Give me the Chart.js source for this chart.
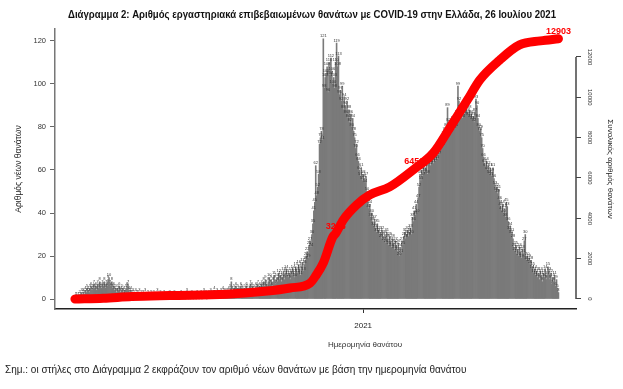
<!DOCTYPE html>
<html>
<head>
<meta charset="utf-8">
<script src="https://cdn.jsdelivr.net/npm/chart.js@4"></script>
<style>
  html, body { margin: 0; padding: 0; background: #fff; }
</style>
</head>
<body>
<canvas id="chart" width="623" height="389"></canvas>
<script>
// daily deaths by date of death, day 0 = 3 March 2020, last = 26 July 2021
const dailyDeaths = [
  0, 1, 1, 0, 1, 2, 1, 3, 2, 3, 2, 4, 3, 5, 4, 3, 5, 6, 4, 5, 7,
  5, 6, 4, 7, 5, 8, 6, 5, 7, 6, 8, 5, 7, 6, 9, 10, 7, 6, 8, 5,
  6, 4, 5, 3, 5, 4, 6, 3, 4, 5, 3, 4, 2, 5, 6, 7, 4, 3, 4, 2,
  3, 2, 1, 3, 2, 2, 1, 3, 1, 2, 0, 2, 1, 3, 1, 0, 2, 1, 1, 2,
  0, 1, 2, 0, 1, 1, 3, 0, 1, 2, 0, 1, 0, 2, 1, 0, 1, 0, 1, 2,
  1, 0, 0, 1, 2, 0, 1, 0, 0, 1, 0, 2, 1, 0, 1, 0, 0, 3, 1, 0,
  1, 0, 2, 1, 0, 1, 1, 0, 2, 1, 0, 1, 2, 0, 1, 3, 1, 2, 0, 1,
  2, 1, 3, 2, 1, 2, 4, 2, 1, 3, 2, 1, 2, 3, 2, 4, 3, 2, 3, 2,
  3, 4, 2, 5, 8, 4, 3, 5, 4, 6, 3, 5, 4, 3, 6, 5, 4, 3, 5, 4,
  6, 5, 3, 4, 7, 5, 6, 4, 5, 3, 6, 5, 7, 4, 6, 5, 7, 6, 8, 6,
  9, 7, 5, 8, 10, 7, 9, 6, 8, 11, 9, 7, 10, 8, 12, 9, 11, 8, 10, 13, 9, 12, 14, 11,
  10, 12, 9, 13, 11, 14, 12, 10, 15, 13, 12, 16, 14, 11, 15, 17, 13, 16, 18,
  20, 22, 19, 25, 27, 24, 30,
  35, 41, 45, 62, 48, 52, 58, 72, 75, 78, 74, 121, 98, 103,
  105, 108, 96, 110, 104, 112, 106, 100, 103, 98, 110, 119, 108, 113, 95,
  97, 92, 99, 88, 94, 90, 86, 92, 84, 88, 82, 86, 80, 84, 78,
  75, 70, 72, 66, 64, 60, 57, 61, 55, 58,
  56, 54, 57, 50, 45, 42, 44, 38, 40, 36, 34, 37, 33, 31, 35, 32, 30, 31, 28, 32,
  29, 27, 30, 26, 31, 28, 25, 29, 27, 24, 28, 26, 23, 27, 25, 22, 26, 20, 24, 21,
  27, 25, 29, 31, 28, 30, 32, 29, 31, 33, 30, 38, 36, 41, 39,
  44, 40, 47, 52, 58, 55, 60, 57, 62, 59, 61, 64, 58, 63, 66, 62, 65, 67, 63, 66,
  64, 68, 65, 70, 67, 72, 70, 74, 71, 76, 78, 75, 80, 89, 82, 79, 81, 78, 80, 83,
  79, 82, 80, 86, 99, 92, 88, 85, 87, 84, 88, 86, 90, 92, 87, 85, 88, 84, 86, 83,
  85, 82, 87, 93, 90, 84, 80, 78, 79, 75, 70, 66, 63, 61, 64, 60, 62, 58, 61, 57,
  59, 61, 56, 53, 50, 52, 49, 51, 46, 43, 41, 44, 40, 42, 38, 45, 43, 36, 32, 34,
  30, 31, 28, 24, 22, 25, 21, 23, 20, 24, 22, 19, 23, 21, 27, 30, 18, 20, 17, 19,
  16, 18, 14, 15, 12, 14, 11, 13, 10, 12, 9, 13, 11, 8, 12, 10, 14, 9, 11, 15,
  13, 9, 12, 7, 10, 8, 11, 6, 9, 5, 3,
]

// cumulative total (day index -> total)
const cumDays = [0, 30, 60, 100, 160, 200, 227, 248, 254, 262, 272, 275, 283, 297, 311, 332, 358, 378, 396, 414, 427, 448, 469, 491, 510]
const cumValues = [0, 40, 120, 170, 230, 380, 545, 790, 1150, 1790, 3080, 3246, 3920, 4660, 5160, 5560, 6450, 7240, 8530, 9870, 10860, 11850, 12600, 12800, 12903]
const labelledTotals = [3246, 6450, 12903]

const leftTicks = [0, 20, 40, 60, 80, 100, 120]
const rightTicks = [0, 2000, 4000, 6000, 8000, 10000, 12000]
const xTickDays = [304]
const xTickLabels = ['2021']

const titleText = 'Διάγραμμα 2: Αριθμός εργαστηριακά επιβεβαιωμένων θανάτων με COVID-19 στην Ελλάδα, 26 Ιουλίου 2021'
const xTitle = 'Ημερομηνία θανάτου'
const noteText = 'Σημ.: οι στήλες στο Διάγραμμα 2 εκφράζουν τον αριθμό νέων θανάτων με βάση την ημερομηνία θανάτου'

const FONT = '"Liberation Sans", Arial, sans-serif'
Chart.defaults.font.family = FONT
Chart.defaults.color = '#222'

const textPlugin = {
  id: 'texts',
  afterDatasetDraw(chart, args) {
    if (args.index !== 1) return
    const ctx = chart.ctx
    ctx.save()
    // tiny value labels above the bars
    ctx.font = '4px ' + FONT
    ctx.fillStyle = '#333'
    ctx.textAlign = 'center'
    ctx.textBaseline = 'bottom'
    args.meta.data.forEach((bar, i) => ctx.fillText(dailyDeaths[i], bar.x, bar.y - 0.5))

    // red totals on the curve
    const line = chart.getDatasetMeta(0)
    ctx.font = 'bold 9px ' + FONT
    ctx.fillStyle = '#ff0000'
    cumValues.forEach((v, i) => {
      if (labelledTotals.includes(v)) {
        const p = line.data[i]
        ctx.fillText(v, p.x, p.y - 3)
      }
    })
    ctx.restore()
  },
  afterDraw(chart) {
    const ctx = chart.ctx
    const right = chart.scales.yTotal
    ctx.save()

    // right axis line only over the tick range
    ctx.strokeStyle = '#444'
    ctx.lineWidth = 1.5
    ctx.beginPath()
    ctx.moveTo(chart.chartArea.right, right.getPixelForValue(0))
    ctx.lineTo(chart.chartArea.right, right.getPixelForValue(12000))
    ctx.stroke()

    // title, squeezed to the width of the original
    ctx.fillStyle = '#111'
    ctx.textBaseline = 'middle'
    ctx.textAlign = 'center'
    ctx.font = 'bold 11px ' + FONT
    const w = ctx.measureText(titleText).width
    ctx.save()
    ctx.translate(312, 15)
    ctx.scale(488 / w, 1)
    ctx.fillText(titleText, 0, 0)
    ctx.restore()

    ctx.font = '8px ' + FONT
    ctx.fillStyle = '#333'
    ctx.fillText(xTitle, 365, 345)

    ctx.font = '10px ' + FONT
    ctx.fillStyle = '#222'
    ctx.textAlign = 'left'
    ctx.fillText(noteText, 5, 370)
    ctx.restore()
  },
}

new Chart(document.getElementById('chart'), {
  type: 'bar',
  data: {
    datasets: [
      {
        type: 'line',
        data: cumDays.map((d, i) => ({ x: d, y: cumValues[i] })),
        yAxisID: 'yTotal',
        borderColor: '#ff0000',
        borderWidth: 9,
        borderCapStyle: 'round',
        borderJoinStyle: 'round',
        pointRadius: 0,
        cubicInterpolationMode: 'monotone',
        order: 0,
      },
      {
        type: 'bar',
        data: dailyDeaths.map((v, i) => ({ x: i, y: v })),
        yAxisID: 'y',
        backgroundColor: '#7a7a7a',
        barPercentage: 1,
        categoryPercentage: 1,
        order: 1,
      },
    ],
  },
  options: {
    responsive: false,
    animation: false,
    layout: { padding: { top: 29, left: 0, right: 0, bottom: 0 } },
    plugins: { legend: { display: false }, tooltip: { enabled: false } },
    scales: {
      x: {
        type: 'linear',
        offset: false,
        min: -21,
        max: 528.5,
        afterBuildTicks: (s) => { s.ticks = xTickDays.map((v) => ({ value: v })) },
        afterFit: (s) => { s.height = 80 },
        ticks: {
          callback: (v) => xTickLabels[xTickDays.indexOf(v)],
          font: { size: 8 },
          color: '#222',
          padding: 8,
          maxRotation: 0,
        },
        grid: { drawOnChartArea: false, tickLength: 4, color: '#333', offset: false },
        border: { color: '#222', width: 1.5 },
      },
      y: {
        position: 'left',
        min: -4.65,
        max: 125.58,
        afterBuildTicks: (s) => { s.ticks = leftTicks.map((v) => ({ value: v })) },
        afterFit: (s) => { s.width = 55 },
        ticks: { font: { size: 7.5 }, color: '#333', padding: 4 },
        grid: { drawOnChartArea: false, tickLength: 5, color: '#666' },
        border: { color: '#777', width: 1.5 },
        title: { display: true, text: 'Αριθμός νέων θανάτων', font: { size: 8.5 }, color: '#222', padding: { top: 14, bottom: 0 } },
      },
      yTotal: {
        position: 'right',
        min: -496,
        max: 13388,
        afterBuildTicks: (s) => { s.ticks = rightTicks.map((v) => ({ value: v })) },
        afterFit: (s) => { s.width = 47 },
        ticks: { callback: (v) => String(v), font: { size: 6 }, color: '#333', padding: 0, minRotation: -90, maxRotation: -90, crossAlign: 'center' },
        grid: { drawOnChartArea: false, tickLength: 5, color: '#444' },
        border: { display: false },
        title: { display: true, text: 'Συνολικός αριθμός θανάτων', font: { size: 8 }, color: '#222', padding: { top: 8, bottom: 0 } },
      },
    },
  },
  plugins: [textPlugin],
})
</script>
</body>
</html>
